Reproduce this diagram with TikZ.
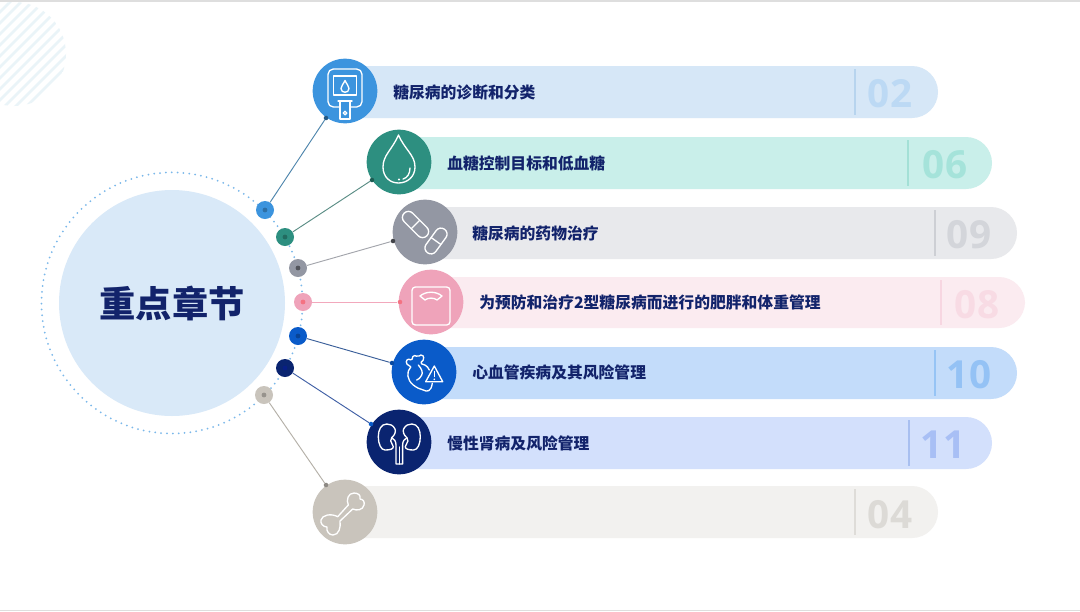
\documentclass[tikz,border=0pt]{standalone}
\usepackage{fontspec}
\newfontfamily\cjk{Noto Sans CJK SC}
\newfontfamily\numf{Open Sans}
\definecolor{navy}{HTML}{12236B}
\definecolor{n1}{HTML}{BCD9F4}\definecolor{n2}{HTML}{A5E3DA}\definecolor{n3}{HTML}{D3D5DA}
\definecolor{n4}{HTML}{F8DBE4}\definecolor{n5}{HTML}{94C2F5}\definecolor{n6}{HTML}{A8BFF5}\definecolor{n7}{HTML}{DCDAD6}
\definecolor{v1}{HTML}{B7D4EE}\definecolor{v2}{HTML}{A3E0D6}\definecolor{v3}{HTML}{CDCFD4}
\definecolor{v4}{HTML}{F7D6E1}\definecolor{v5}{HTML}{96C4F5}\definecolor{v6}{HTML}{A8BFF0}\definecolor{v7}{HTML}{DEDCD8}
\definecolor{b1}{HTML}{D6E7F7}\definecolor{b2}{HTML}{C9EFEA}\definecolor{b3}{HTML}{E8E9EC}
\definecolor{b4}{HTML}{FBEBF0}\definecolor{b5}{HTML}{C3DCFA}\definecolor{b6}{HTML}{D3E0FC}\definecolor{b7}{HTML}{F2F1EF}
\definecolor{c1}{HTML}{3C94DE}\definecolor{c2}{HTML}{2D8F80}\definecolor{c3}{HTML}{9397A3}
\definecolor{c4}{HTML}{EFA3BA}\definecolor{c5}{HTML}{0A5BC9}\definecolor{c6}{HTML}{0A2470}\definecolor{c7}{HTML}{C9C4BC}
\definecolor{stripe}{HTML}{EAF4F8}\definecolor{ringc}{HTML}{7AB8EA}\definecolor{mainc}{HTML}{D9E9F8}
\definecolor{l1}{HTML}{4F86AD}\definecolor{l2}{HTML}{5A8D85}\definecolor{l3}{HTML}{A3A5AC}
\definecolor{l4}{HTML}{F2A8BC}\definecolor{l5}{HTML}{3A5F9A}\definecolor{l6}{HTML}{3F5FA5}\definecolor{l7}{HTML}{B5B0A8}
\tikzset{
  x=0.75pt,y=-0.75pt,
  big/.style={circle,inner sep=0pt,minimum size=48.5pt,fill=#1},
  hub/.style={circle,inner sep=0pt,minimum size=13.5pt,fill=#1},
  core/.style={circle,inner sep=0pt,minimum size=3.6pt,fill=#1},
  tip/.style={circle,inner sep=0pt,minimum size=3.4pt,fill=#1},
  lab/.style={anchor=west,inner sep=0pt,text=navy,font=\cjk\bfseries\fontsize{11.85}{14}\selectfont},
  numlab/.style={inner sep=0pt,text=#1,font=\numf\bfseries\fontsize{29}{32}\selectfont},
  link/.style={line width=0.7pt,draw=#1},
  divline/.style={line width=0.8pt,draw=#1},
  icon/.style={draw=white,line width=1pt,line join=round,line cap=round},
  capsule/.style={draw=white,line width=1pt,inner sep=0pt,rounded corners=4.4pt,minimum height=9pt},
}
\newcommand{\pill}[5]{% left, top, right, bottom, colour
  \fill[#5] (#1,#2) [rounded corners=19.5pt] -- (#3,#2) -- (#3,#4) [sharp corners] -- (#1,#4) -- cycle;}
\begin{document}
\begin{tikzpicture}
\useasboundingbox (0,0) rectangle (1080,611);
\fill[white] (0,0) rectangle (1080,611);
\fill[black!13] (0,0) rectangle (1080,2);
\fill[black!13] (0,610) rectangle (1080,611);
% striped disc
\begin{scope}
  \clip (14,54) circle[radius=52];
  \foreach \k in {-120,-109,...,44}
    \draw[line width=2pt,stripe] (\k,110) -- (\k+120,-10);
\end{scope}
% centre
\node[circle,inner sep=0pt,minimum size=195.8pt,draw=ringc,line width=1.5pt,dash pattern=on 0pt off 4.4pt,line cap=round] (ring) at (172,303) {};
\node[circle,inner sep=0pt,minimum size=169.5pt,fill=mainc,text=navy,font=\cjk\bfseries\fontsize{27.2}{30}\selectfont] (main) at (172,303) {重点章节};
% bars
\pill{345}{66}{938}{118}{b1}
\pill{400}{137}{992}{189}{b2}
\pill{425}{207}{1017}{259}{b3}
\pill{432}{277}{1025}{328}{b4}
\pill{424}{347}{1017}{399}{b5}
\pill{400}{417}{992}{469}{b6}
\pill{345}{486}{938}{538}{b7}
% dividers
\draw[divline=v1] (855,69) -- (855,115);
\draw[divline=v2] (908,140) -- (908,186);
\draw[divline=v3] (935,210) -- (935,256);
\draw[divline=v4] (941,280) -- (941,325);
\draw[divline=v5] (935,350) -- (935,396);
\draw[divline=v6] (909,420) -- (909,466);
\draw[divline=v7] (855,489) -- (855,535);
% numbers
\node[numlab=n1] (n1) at (890,94) {02};
\node[numlab=n2] (n2) at (945,165) {06};
\node[numlab=n3] (n3) at (969,235) {09};
\node[numlab=n4] (n4) at (977,305) {08};
\node[numlab=n5] (n5) at (969,374.5) {10};
\node[numlab=n6] (n6) at (943,444.5) {11};
\node[numlab=n7] (n7) at (890,514.5) {04};
% labels
\node[lab] (t1) at (393,92.6) {糖尿病的诊断和分类};
\node[lab] (t2) at (447,163.6) {血糖控制目标和低血糖};
\node[lab] (t3) at (472,233.6) {糖尿病的药物治疗};
\node[lab] (t4) at (479,302.6) {为预防和治疗2型糖尿病而进行的肥胖和体重管理};
\node[lab] (t5) at (472,372.6) {心血管疾病及其风险管理};
\node[lab] (t6) at (447,443.6) {慢性肾病及风险管理};
% large circles
\node[big=c1] (C1) at (345,91) {};
\node[big=c2] (C2) at (399,162) {};
\node[big=c3] (C3) at (425,232) {};
\node[big=c4] (C4) at (431,302) {};
\node[big=c5] (C5) at (424,372) {};
\node[big=c6] (C6) at (399,442) {};
\node[big=c7] (C7) at (345,512) {};
% hubs
\node[hub=c1] (D1) at (265,210) {};
\node[hub=c2] (D2) at (285,237) {};
\node[hub=c3] (D3) at (298,268) {};
\node[hub=c4] (D4) at (303,302) {};
\node[hub=c5] (D5) at (298,336) {};
\node[hub=c6] (D6) at (285,368) {};
\node[hub=c7] (D7) at (264,395) {};
\node[core=c1!75!black] at (D1) {};
\node[core=c2!75!black] at (D2) {};
\node[core=c3!55!black] at (D3) {};
\node[core=c4!70!red] at (D4) {};
\node[core=c5!75!black] at (D5) {};
\node[core=c6!85!blue] at (D6) {};
\node[core=c7!75!black] at (D7) {};
% tips
\node[tip=c1!60!black] (E1) at (326,118) {};
\node[tip=c2!65!black] (E2) at (372,180) {};
\node[tip=c3!45!black] (E3) at (393,241) {};
\node[tip=c4!70!red] (E4) at (400,302) {};
\node[tip=c5!80!black] (E5) at (392,363) {};
\node[tip=c5] (E6) at (371,424) {};
\node[tip=c7!70!black] (E7) at (326,485) {};
% connectors
\draw[link=l1] (D1) -- (E1);
\draw[link=l2] (D2) -- (E2);
\draw[link=l3] (D3) -- (E3);
\draw[link=l4] (D4) -- (E4);
\draw[link=l5] (D5) -- (E5);
\draw[link=l6] (D6) -- (E6);
\draw[link=l7] (D7) -- (E7);
% icon 1: meter
\draw[icon,rounded corners=4pt] (339,107) -- (328,107) -- (328,69) -- (362,69) -- (362,107) -- (351,107);
\draw[icon] (333.5,76) rectangle (356.5,95);
\draw[icon] (345,80.5) .. controls (343.5,84) and (341,86) .. (341,88.5) .. controls (341,93.5) and (349,93.5) .. (349,88.5) .. controls (349,86) and (346.5,84) .. (345,80.5);
\draw[icon] (338,101) -- (352,101);
\draw[icon] (340,101) -- (340,119) -- (350,119) -- (350,101);
\draw[icon] (345,113) circle[radius=1.8];
% icon 2: drop
\draw[icon] (398.5,135) .. controls (392,150) and (383,155) .. (383,167) .. controls (383,177) and (390,183) .. (398.5,183) .. controls (407,183) and (415,177) .. (415,167) .. controls (415,155) and (405,150) .. (398.5,135);
\draw[icon] (403,179) .. controls (407,178) and (410,174) .. (410,168);
\fill[white] (399,179.5) circle[radius=1.2];
% icon 3: capsules
\node[capsule,minimum width=24pt,rotate=-45] (P1) at (415.5,224.5) {};
\draw[icon] (419.7,220.3) -- (411.3,228.7);
\node[capsule,minimum width=21.75pt,rotate=54] (P2) at (436,241) {};
\draw[icon] (431.1,237.5) -- (440.9,244.5);
% icon 4: scale
\draw[icon,rounded corners=2.5pt] (412,287) rectangle (450,325);
\draw[icon] (420,296) .. controls (426,291) and (436,291) .. (442,296) -- (437,300) .. controls (434,297.5) and (428,297.5) .. (425,300) -- cycle;
% icon 5: heart + warning
\draw[icon,rounded corners=1.2pt] (410.7,366.7) -- (405.7,363.3) -- (407.7,358.3) -- (411.7,360.7) -- (413.3,355) -- (417.7,356.7) -- (422.3,354.3) -- (424.3,359) -- (420,363.3) -- (426.7,365.7) -- (429.3,370);
\draw[icon] (410.7,367) .. controls (406,372) and (407,380) .. (413.3,385) .. controls (417,388) and (420,389) .. (423.3,390) .. controls (427,392) and (431,392) .. (432.3,383.3);
\draw[icon] (418.3,365) .. controls (422,369) and (423,373) .. (421.7,375) .. controls (420,378) and (418,380) .. (416.7,380);
\draw[icon] (434.3,366) -- (425.7,381.7) -- (442.7,381.7) -- cycle;
\draw[icon] (434.3,371.5) -- (434.3,376.5);
\fill[white] (434.3,379.3) circle[radius=.9];
% icon 6: kidneys
\draw[icon] (391.7,437.7) .. controls (395,435) and (396,431) .. (395,429) .. controls (393,425) and (390,424) .. (386.7,424) .. controls (381,424) and (378.3,430) .. (378.3,436.7) .. controls (378.3,444) and (381,450) .. (385,450) .. controls (390,450) and (393.5,449) .. (393.3,446.7) .. controls (393,444) and (390.7,443) .. (390.7,441) -- cycle;
\draw[icon] (406.9,437.7) .. controls (403.6,435) and (402.6,431) .. (403.6,429) .. controls (405.6,425) and (408.6,424) .. (411.9,424) .. controls (417.6,424) and (420.3,430) .. (420.3,436.7) .. controls (420.3,444) and (417.6,450) .. (413.6,450) .. controls (408.6,450) and (405.1,449) .. (405.3,446.7) .. controls (405.6,444) and (407.9,443) .. (407.9,441) -- cycle;
\draw[icon] (391.7,437.7) .. controls (394,439) and (396,441) .. (396,445) -- (396,464) -- (402.6,464) -- (402.6,445) .. controls (402.6,441) and (404.6,439) .. (406.9,437.7);
\draw[icon] (399.3,447) -- (399.3,464);
% icon 7: bone
\draw[icon] (348.3,505) .. controls (346,500) and (348,493) .. (354,493) .. controls (358,493) and (361,495) .. (360,499) .. controls (363,499) and (365,502) .. (364,505) .. controls (363,510) and (357,511) .. (352.7,509) -- (340,521) .. controls (341,527) and (339,535) .. (333,535) .. controls (329,535) and (326,531) .. (327,527) .. controls (323,527) and (320,523) .. (321,520) .. controls (322,515) and (331,513) .. (337.7,516.7) -- cycle;
\end{tikzpicture}
\end{document}
